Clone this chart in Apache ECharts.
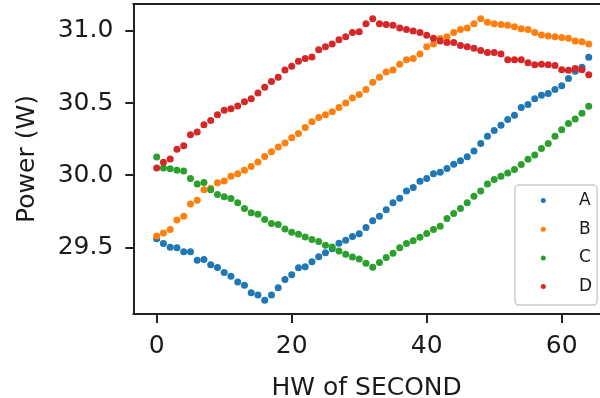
<!DOCTYPE html>
<html>
<head>
<meta charset="utf-8">
<script src="https://cdn.jsdelivr.net/npm/echarts@6/dist/echarts.min.js"></script>
<style>html,body{margin:0;padding:0;background:#fff}#c{width:600px;height:398px}</style>
</head>
<body>
<div id="c"></div>
<script>
var xValues = [];
for (var i = 0; i <= 64; i++) xValues.push(i);
var seriesNames = ['A', 'B', 'C', 'D'];
var xTicks = [0, 20, 40, 60];
var yTicks = [29.5, 30.0, 30.5, 31.0];
var valuesA = [29.56,29.527,29.50,29.497,29.47,29.47,29.41,29.416,29.38,29.36,29.326,29.30,29.26,29.238,29.185,29.17,29.134,29.17,29.22,29.278,29.31,29.358,29.365,29.40,29.435,29.462,29.49,29.528,29.55,29.575,29.595,29.638,29.685,29.716,29.76,29.81,29.84,29.89,29.915,29.958,29.977,30.01,30.02,30.046,30.076,30.10,30.128,30.168,30.22,30.27,30.31,30.346,30.386,30.415,30.47,30.49,30.53,30.554,30.566,30.595,30.62,30.67,30.72,30.748,30.818];
var valuesB = [29.578,29.60,29.624,29.69,29.716,29.80,29.827,29.90,29.91,29.947,29.96,29.993,30.01,30.035,30.06,30.092,30.13,30.163,30.196,30.224,30.26,30.29,30.33,30.37,30.40,30.42,30.44,30.47,30.50,30.535,30.56,30.595,30.645,30.68,30.715,30.73,30.77,30.80,30.81,30.84,30.89,30.91,30.947,30.96,30.99,31.01,31.02,31.05,31.085,31.06,31.05,31.045,31.04,31.03,31.016,31.01,30.99,30.972,30.965,30.96,30.955,30.95,30.93,30.925,30.91];
var valuesC = [30.127,30.05,30.045,30.035,30.03,29.977,29.94,29.95,29.90,29.866,29.85,29.838,29.81,29.77,29.74,29.73,29.693,29.665,29.658,29.628,29.605,29.59,29.572,29.555,29.54,29.515,29.503,29.475,29.453,29.434,29.42,29.39,29.362,29.395,29.43,29.46,29.497,29.527,29.545,29.57,29.596,29.624,29.647,29.70,29.735,29.77,29.81,29.855,29.89,29.94,29.97,29.993,30.016,30.04,30.074,30.11,30.14,30.185,30.22,30.27,30.316,30.358,30.39,30.43,30.478];
var valuesD = [30.05,30.09,30.113,30.18,30.205,30.28,30.30,30.35,30.38,30.42,30.45,30.46,30.48,30.51,30.53,30.57,30.61,30.65,30.68,30.73,30.755,30.79,30.81,30.82,30.87,30.89,30.91,30.94,30.96,30.99,30.995,31.05,31.085,31.05,31.045,31.04,31.02,31.01,31.00,30.99,30.97,30.95,30.93,30.92,30.92,30.90,30.89,30.88,30.865,30.85,30.85,30.84,30.80,30.80,30.80,30.78,30.765,30.77,30.765,30.76,30.732,30.727,30.74,30.732,30.697];
var colors = ['#1f77b4', '#ff7f0e', '#2ca02c', '#d62728'];

function pairs(vals) { return xValues.map(function (x, i) { return [x, vals[i]]; }); }
var allVals = [valuesA, valuesB, valuesC, valuesD];

var font = 'DejaVu Sans';
var xMin = -3.467, xMax = 65.67;
var chart = echarts.init(document.getElementById('c'), null, {renderer: 'canvas'});
chart.setOption({
  animation: false,
  backgroundColor: '#fff',
  color: colors,
  grid: {left: 133.3, top: 4, right: 0, bottom: 84, show: false, containLabel: false, outerBoundsMode: 'none'},
  xAxis: [{
    type: 'value', min: xMin, max: xMax,
    name: 'HW of SECOND', nameLocation: 'middle', nameGap: 62,
    nameTextStyle: {fontFamily: font, fontSize: 25, color: '#1a1a1a'},
    axisLine: {show: true, onZero: false, lineStyle: {color: '#222', width: 2}},
    axisTick: {show: true, length: 9, lineStyle: {color: '#222', width: 2}, customValues: xTicks},
    axisLabel: {fontFamily: font, fontSize: 25, color: '#1a1a1a', margin: 20, customValues: xTicks},
    splitLine: {show: false}
  }, {
    type: 'value', min: xMin, max: xMax, position: 'top',
    axisLine: {show: true, onZero: false, lineStyle: {color: '#222', width: 2}},
    axisTick: {show: false}, axisLabel: {show: false}, splitLine: {show: false}
  }],
  yAxis: {
    type: 'value', min: 29.038, max: 31.187,
    name: 'Power (W)', nameLocation: 'middle', nameGap: 93, nameRotate: 90,
    nameTextStyle: {fontFamily: font, fontSize: 25, color: '#1a1a1a'},
    axisLine: {show: true, onZero: false, lineStyle: {color: '#222', width: 2}},
    axisTick: {show: true, length: 8, lineStyle: {color: '#222', width: 2}, customValues: yTicks},
    axisLabel: {fontFamily: font, fontSize: 25, color: '#1a1a1a', margin: 20, customValues: yTicks,
      formatter: function (v) { return v.toFixed(1); }},
    splitLine: {show: false}
  },
  legend: {
    orient: 'vertical', left: 515, top: 185,
    data: seriesNames,
    icon: 'circle', itemWidth: 5, itemHeight: 5, itemGap: 11.7,
    padding: [7, 5, 10, 25.8],
    backgroundColor: 'rgba(255,255,255,0.85)', borderColor: '#cccccc', borderWidth: 1.5, borderRadius: 4,
    textStyle: {fontFamily: font, fontSize: 17, color: '#1a1a1a', padding: [0, 0, 0, 28.2]}
  },
  series: seriesNames.map(function (n, k) {
    return {name: n, type: 'scatter', xAxisIndex: 0, data: pairs(allVals[k]), symbolSize: 7,
      itemStyle: {color: colors[k], opacity: 1}};
  })
});
</script>
</body>
</html>
